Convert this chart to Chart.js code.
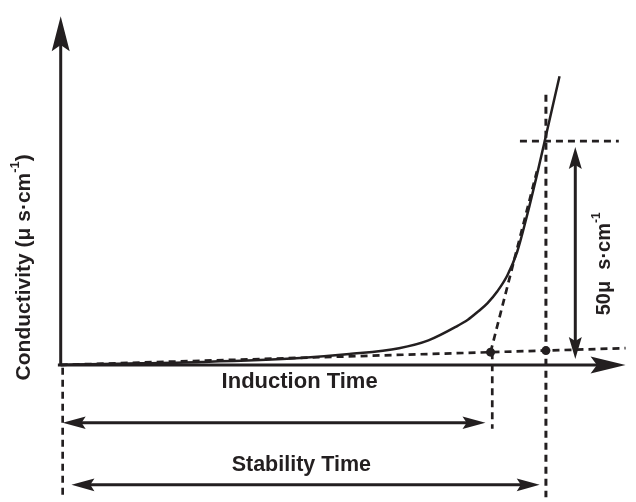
<!DOCTYPE html>
<html>
<head>
<meta charset="utf-8">
<title>Conductivity - induction and stability time</title>
<script src="https://cdn.jsdelivr.net/npm/chart.js@4.4.1/dist/chart.umd.min.js"></script>
<style>
  html, body { margin: 0; padding: 0; background: #fff; }
  #wrap { width: 636px; height: 502px; }
</style>
</head>
<body>
<div id="wrap"><canvas id="myChart" width="636" height="502"></canvas></div>
<script>
// conductivity curve (both axes in % of the axis length)
var curveTime = [0, 7.5, 25.0, 42.4, 51.1, 59.9, 65.1, 70.33, 72.08, 73.82, 75.57, 77.31, 79.06, 80.8, 82.55, 84.29, 85.69, 88.31];
var curveCond = [0, 0.28, 0.85, 1.97, 3.1, 4.79, 7.04, 11.27, 12.96, 15.21, 17.75, 21.13, 25.63, 32.39, 42.82, 54.37, 64.23, 82.82];

// baseline tangent
var baseTime = [0, 100];
var baseCond = [0, 4.8];

// steep tangent
var tangentTime = [76.1, 84.3];
var tangentCond = [3.65, 55.5];

// marked points
var inductionTime = 76.1;
var stabilityTime = 85.9;
var pointTime = [inductionTime, stabilityTime];
var pointCond = [3.65, 4.1];

// 50 uS/cm limit
var limitCond = 64.2;
var limitTime = [81.3, 98.8];
var stepCond = [1.7, 62.5];
var stepTime = 91.1;

// helper lines below the axis
var lowEnd = -38;
var inductionLineEnd = -18.3;
var inductionArrowCond = -16.6;
var stabilityArrowCond = -34.4;

var yTitle = ['Conductivity (\u03bc s\u00b7cm', '-1', ')'];
var stepTitle = ['50\u03bc  s\u00b7cm', '-1', ''];
var inductionLabel = 'Induction Time';
var stabilityLabel = 'Stability Time';

var ink = '#231f20';

function pts(xs, ys) {
    var out = [];
    for (var i = 0; i < xs.length; i++) {
        out.push({ x: xs[i], y: ys[i] });
    }
    return out;
}

function head(ctx, x1, y1, x2, y2, len, half) {
    var a = Math.atan2(y2 - y1, x2 - x1);
    ctx.save();
    ctx.translate(x2, y2);
    ctx.rotate(a);
    ctx.beginPath();
    ctx.moveTo(0, 0);
    ctx.lineTo(-len, -half);
    ctx.lineTo(-len * 0.82, 0);
    ctx.lineTo(-len, half);
    ctx.closePath();
    ctx.fill();
    ctx.restore();
}

function arrow(ctx, x1, y1, x2, y2, both, len, half, width) {
    var d = Math.hypot(x2 - x1, y2 - y1);
    var ux = (x2 - x1) / d, uy = (y2 - y1) / d;
    var s = both ? len * 0.6 : 0;
    ctx.lineWidth = width;
    ctx.beginPath();
    ctx.moveTo(x1 + ux * s, y1 + uy * s);
    ctx.lineTo(x2 - ux * len * 0.6, y2 - uy * len * 0.6);
    ctx.stroke();
    head(ctx, x1, y1, x2, y2, len, half);
    if (both) head(ctx, x2, y2, x1, y1, len, half);
}

function richText(ctx, parts, x, y, size, rot) {
    var big = 'bold ' + size + 'px "Liberation Sans", Arial, sans-serif';
    var small = 'bold ' + Math.round(size * 0.62) + 'px "Liberation Sans", Arial, sans-serif';
    ctx.font = big;
    var w0 = ctx.measureText(parts[0]).width;
    var w2 = ctx.measureText(parts[2]).width;
    ctx.font = small;
    var w1 = ctx.measureText(parts[1]).width;
    var total = w0 + w1 + w2;
    ctx.save();
    ctx.translate(x, y);
    ctx.rotate(rot);
    ctx.textBaseline = 'middle';
    ctx.textAlign = 'left';
    var cx = -total / 2;
    ctx.font = big;
    ctx.fillText(parts[0], cx, 0);
    ctx.font = small;
    ctx.fillText(parts[1], cx + w0, -size * 0.42);
    ctx.font = big;
    ctx.fillText(parts[2], cx + w0 + w1, 0);
    ctx.restore();
}

var drawExtras = {
    id: 'drawExtras',
    beforeDatasetsDraw: function (chart) {
        var ctx = chart.ctx, xs = chart.scales.x, ys = chart.scales.y;
        ctx.save();
        ctx.strokeStyle = ink;
        ctx.fillStyle = ink;
        ctx.lineCap = 'butt';
        // axes
        arrow(ctx, xs.getPixelForValue(-0.5), ys.getPixelForValue(0), xs.getPixelForValue(100), ys.getPixelForValue(0), false, 35, 8.5, 3);
        arrow(ctx, xs.getPixelForValue(0), ys.getPixelForValue(-0.3), xs.getPixelForValue(0), ys.getPixelForValue(100), false, 35, 9, 3);
        ctx.restore();
    },
    afterDatasetsDraw: function (chart) {
        var ctx = chart.ctx, xs = chart.scales.x, ys = chart.scales.y;
        ctx.save();
        ctx.strokeStyle = ink;
        ctx.fillStyle = ink;
        arrow(ctx, xs.getPixelForValue(0.35), ys.getPixelForValue(inductionArrowCond), xs.getPixelForValue(75.2), ys.getPixelForValue(inductionArrowCond), true, 23, 6.3, 3);
        arrow(ctx, xs.getPixelForValue(1.9), ys.getPixelForValue(stabilityArrowCond), xs.getPixelForValue(84.8), ys.getPixelForValue(stabilityArrowCond), true, 23, 6.3, 3);
        arrow(ctx, xs.getPixelForValue(stepTime), ys.getPixelForValue(stepCond[0]), xs.getPixelForValue(stepTime), ys.getPixelForValue(stepCond[1]), true, 22, 6.5, 3);

        ctx.textAlign = 'center';
        ctx.textBaseline = 'middle';
        ctx.font = 'bold 22px "Liberation Sans", Arial, sans-serif';
        ctx.fillText(inductionLabel, xs.getPixelForValue(42.3), ys.getPixelForValue(-4.8));
        ctx.font = 'bold 21.5px "Liberation Sans", Arial, sans-serif';
        ctx.fillText(stabilityLabel, xs.getPixelForValue(42.6), ys.getPixelForValue(-28.8));

        richText(ctx, yTitle, 24, ys.getPixelForValue(28), 21, -Math.PI / 2);
        richText(ctx, stepTitle, xs.getPixelForValue(96.3), ys.getPixelForValue(29.0), 20, -Math.PI / 2);
        ctx.restore();
    }
};

var dash = [7, 5];

var ctx = document.getElementById('myChart').getContext('2d');
var config = {
    type: 'scatter',
    data: {
        datasets: [
            { data: pts(curveTime, curveCond), showLine: true, borderColor: ink, borderWidth: 2.5, pointRadius: 0, cubicInterpolationMode: 'monotone', fill: false },
            { data: pts(baseTime, baseCond), showLine: true, borderColor: ink, borderWidth: 2.7, borderDash: dash, pointRadius: 0 },
            { data: pts(tangentTime, tangentCond), showLine: true, borderColor: ink, borderWidth: 2.7, borderDash: dash, pointRadius: 0 },
            { data: pts(limitTime, [limitCond, limitCond]), showLine: true, borderColor: ink, borderWidth: 2.7, borderDash: dash, pointRadius: 0 },
            { data: pts([stabilityTime, stabilityTime], [77.5, lowEnd]), showLine: true, borderColor: ink, borderWidth: 3, borderDash: dash, pointRadius: 0 },
            { data: pts([0.35, 0.35], [-0.8, lowEnd]), showLine: true, borderColor: ink, borderWidth: 2.7, borderDash: dash, pointRadius: 0 },
            { data: pts([76.4, 76.4], [pointCond[0], inductionLineEnd]), showLine: true, borderColor: ink, borderWidth: 2.7, borderDash: dash, pointRadius: 0 },
            { data: pts(pointTime, pointCond), showLine: false, pointRadius: 4.5, pointBackgroundColor: ink, pointBorderColor: ink, pointBorderWidth: 0 }
        ]
    },
    options: {
        responsive: false,
        animation: false,
        layout: { padding: 0 },
        plugins: { legend: { display: false }, tooltip: { enabled: false } },
        scales: {
            x: { type: 'linear', display: false, min: -9.95, max: 101.05 },
            y: { type: 'linear', display: false, min: -38.03, max: 103.38 }
        }
    },
    plugins: [drawExtras]
};
var chart = new Chart(ctx, config);
</script>
</body>
</html>
